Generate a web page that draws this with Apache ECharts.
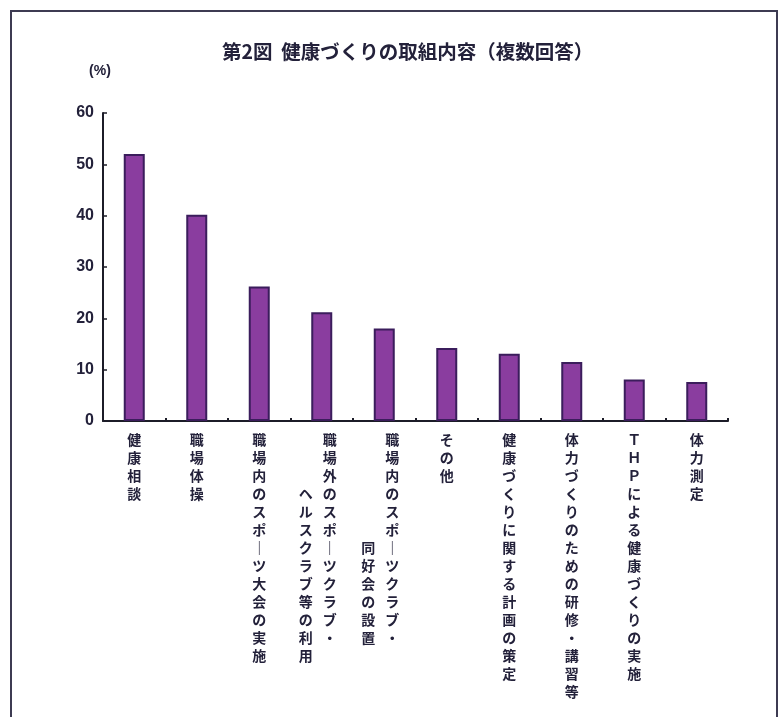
<!DOCTYPE html>
<html>
<head>
<meta charset="utf-8">
<style>
  html, body { margin: 0; padding: 0; background: #ffffff; }
  #chart { width: 780px; height: 717px; }
</style>
<script src="https://cdn.jsdelivr.net/npm/echarts@6/dist/echarts.min.js"></script>
</head>
<body>
<div id="chart"></div>
<script>
// 健康づくりの取組内容（複数回答, %）
const titleText = '第2図  健康づくりの取組内容（複数回答）';
const unitText = '(%)';

// First (right-hand) column of each vertical category label
const labelMain = [
  '健康相談',
  '職場体操',
  '職場内のスポーツ大会の実施',
  '職場外のスポーツクラブ・',
  '職場内のスポーツクラブ・',
  'その他',
  '健康づくりに関する計画の策定',
  '体力づくりのための研修・講習等',
  'ＴＨＰによる健康づくりの実施',
  '体力測定'
];
// Second (left-hand) column, for the two-line labels
const labelSub = ['', '', '', 'ヘルスクラブ等の利用', '同好会の設置', '', '', '', '', ''];

const values = [52.0, 40.2, 26.2, 21.2, 18.0, 14.2, 13.1, 11.5, 8.1, 7.6];

const yTicks = { min: 0, max: 60, step: 10 };

// Lines of blank space before the second column starts
const subIndent = [0, 0, 0, 3, 6, 0, 0, 0, 0, 0];

const TEXT = '#23213a';
const FONT = '"Noto Sans CJK JP", sans-serif';
const NUM_FONT = '"Liberation Sans", Arial, sans-serif';

// Vertical writing: the long-vowel mark stands upright as a bar
function vChar(ch) {
  return ch === 'ー' ? '｜' : ch;
}

function verticalLabel(value, index) {
  const main = Array.from(labelMain[index]).map(vChar);
  const sub = Array.from(labelSub[index]).map(vChar);
  if (!sub.length) {
    return main.map(c => '{m|' + c + '}').join('\n');
  }
  const pad = subIndent[index];
  const n = Math.max(main.length, sub.length + pad);
  const lines = [];
  for (let i = 0; i < n; i++) {
    const s = (i >= pad && i - pad < sub.length) ? sub[i - pad] : '　';
    const m = i < main.length ? main[i] : '　';
    lines.push('{s|' + s + '}{m2|' + m + '}');
  }
  return lines.join('\n');
}

const chart = echarts.init(document.getElementById('chart'), null, { renderer: 'canvas' });

const charStyle = {
  fontFamily: FONT, fontSize: 14, fontWeight: 'bold', color: TEXT, lineHeight: 18
};

chart.setOption({
  backgroundColor: '#ffffff',
  animation: false,
  title: {
    text: titleText,
    left: 217,
    top: 37,
    textStyle: { fontFamily: FONT, fontSize: 19.5, fontWeight: 'bold', color: TEXT }
  },
  graphic: [{
    type: 'rect',
    shape: { x: 11, y: 11, width: 766, height: 720 },
    style: { fill: null, stroke: '#3d3b52', lineWidth: 2 },
    silent: true
  }],
  grid: { left: 103, right: 52, top: 113, bottom: 296, containLabel: false },
  xAxis: {
    type: 'category',
    data: labelMain,
    boundaryGap: true,
    axisLine: { lineStyle: { color: '#1c1c28', width: 2 } },
    axisTick: { show: true, inside: true, length: 3, lineStyle: { color: '#1c1c28', width: 2 } },
    axisLabel: {
      interval: 0,
      margin: 10,
      formatter: verticalLabel,
      rich: {
        m: charStyle,
        s: charStyle,
        m2: Object.assign({}, charStyle, { padding: [0, 8, 0, 10] })
      }
    }
  },
  yAxis: {
    type: 'value',
    min: yTicks.min,
    max: yTicks.max,
    interval: yTicks.step,
    name: unitText,
    nameLocation: 'end',
    nameGap: 35,
    nameTextStyle: { fontFamily: NUM_FONT, fontSize: 14, fontWeight: 'bold', color: TEXT, align: 'center', padding: [0, 6, 0, 0] },
    axisLine: { show: true, lineStyle: { color: '#1c1c28', width: 2 } },
    axisTick: { show: true, inside: true, length: 4, lineStyle: { color: '#1c1c28', width: 1.5 } },
    splitLine: { show: false },
    axisLabel: {
      margin: 9,
      fontFamily: NUM_FONT,
      fontSize: 16,
      fontWeight: 'bold',
      color: TEXT
    }
  },
  series: [{
    type: 'bar',
    data: values,
    barWidth: 21,
    itemStyle: { color: '#8a3d9f', borderColor: '#3b1d5c', borderWidth: 2 }
  }]
});
</script>
</body>
</html>
